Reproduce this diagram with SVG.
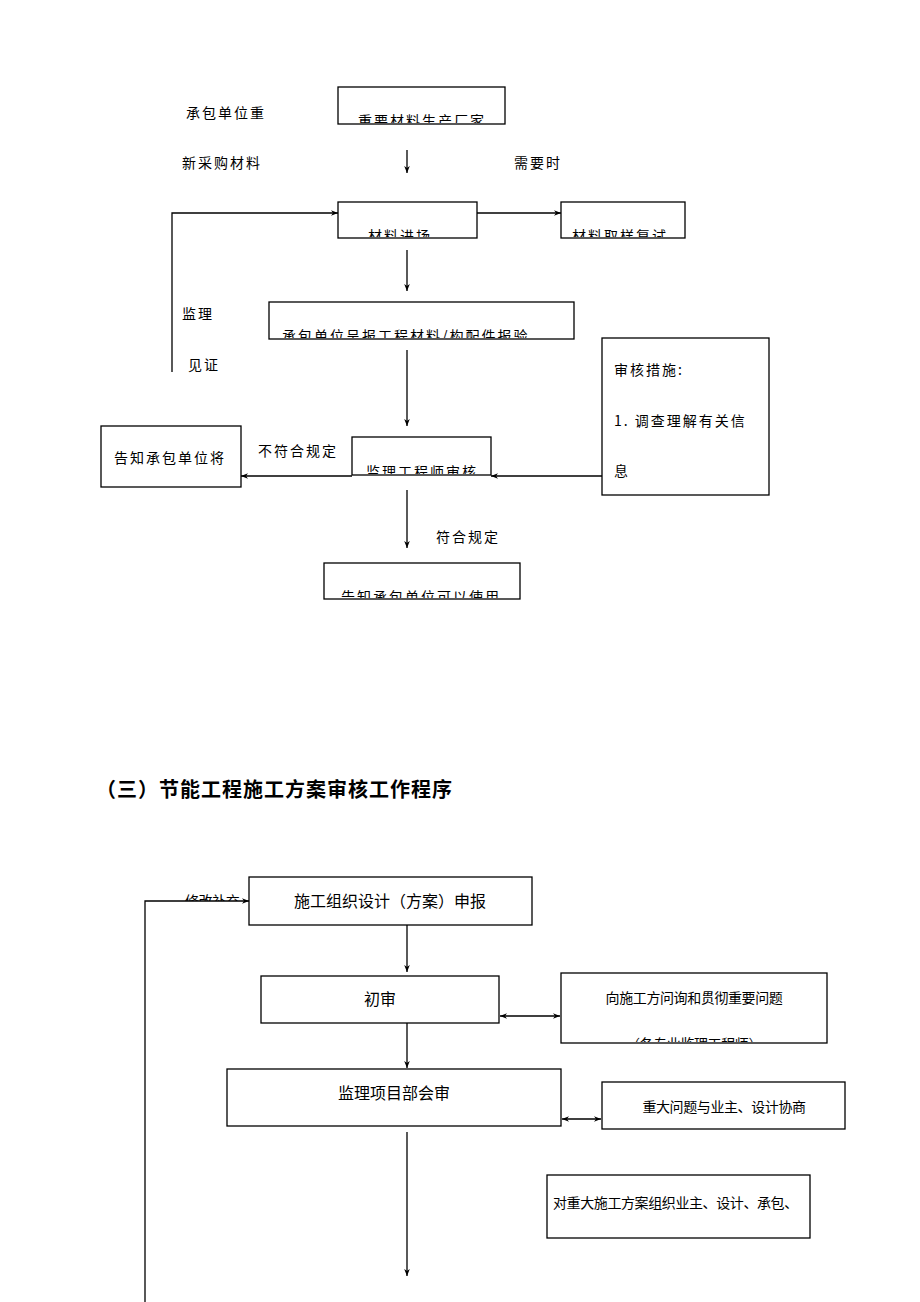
<svg xmlns="http://www.w3.org/2000/svg" width="920" height="1302" viewBox="0 0 920 1302">
<style>
.bg{fill:#fff}
.box{fill:#fff;stroke:#000;stroke-width:1.3}
.ln{fill:none;stroke:#000;stroke-width:1.3}
.t1{font-family:"Noto Sans CJK SC","Noto Sans",sans-serif;font-size:14px;fill:#000;letter-spacing:2px}
.t2{font-family:"Noto Sans CJK SC","Noto Sans",sans-serif;font-size:14px;fill:#000;letter-spacing:-0.4px}
.t3{font-family:"Noto Sans CJK SC","Noto Sans",sans-serif;font-size:16px;fill:#000}
.title{font-family:"Noto Sans CJK SC","Noto Sans",sans-serif;font-size:20px;font-weight:bold;fill:#000;letter-spacing:1px}
</style>
<defs>
<marker id="ah" viewBox="0 0 10 10" refX="10" refY="5" markerWidth="9" markerHeight="7" markerUnits="userSpaceOnUse" orient="auto-start-reverse">
<path d="M0,1 L10,5 L0,9 L3,5 z" fill="#000"/>
</marker>
<clipPath id="c1"><rect x="339" y="88" width="165" height="35"/></clipPath>
<clipPath id="c2"><rect x="339" y="203" width="137" height="34"/></clipPath>
<clipPath id="c3"><rect x="562" y="203" width="122" height="34"/></clipPath>
<clipPath id="c4"><rect x="270" y="303" width="303" height="35"/></clipPath>
<clipPath id="c5"><rect x="353" y="438" width="137" height="36"/></clipPath>
<clipPath id="c6"><rect x="325" y="564" width="194" height="34"/></clipPath>
<clipPath id="c7"><rect x="562" y="974" width="264" height="68"/></clipPath>
<clipPath id="c8"><rect x="150" y="880" width="98" height="21"/></clipPath>
</defs>
<rect class="bg" x="0" y="0" width="920" height="1302"/>

<g id="labels">
<text class="t1" x="186" y="118">承包单位重</text>
<text class="t1" x="182" y="168">新采购材料</text>
<text class="t1" x="514" y="168">需要时</text>
<text class="t1" x="182" y="319">监理</text>
<text class="t1" x="188" y="370">见证</text>
<text class="t1" x="258" y="456">不符合规定</text>
<text class="t1" x="436" y="542">符合规定</text>
<text class="title" x="96" y="797">（三）节能工程施工方案审核工作程序</text>
<g clip-path="url(#c8)"><text class="t2" x="185" y="906">修改补充</text></g>
</g>

<g id="connectors">
<line class="ln" x1="407" y1="150" x2="407" y2="173" marker-end="url(#ah)"/>
<polyline class="ln" points="172,372 172,213 338,213" marker-end="url(#ah)"/>
<line class="ln" x1="477" y1="213" x2="561" y2="213" marker-end="url(#ah)"/>
<line class="ln" x1="407" y1="250" x2="407" y2="291" marker-end="url(#ah)"/>
<line class="ln" x1="407" y1="350" x2="407" y2="426" marker-end="url(#ah)"/>
<line class="ln" x1="352" y1="476" x2="241" y2="476" marker-end="url(#ah)"/>
<line class="ln" x1="602" y1="476" x2="491" y2="476" marker-end="url(#ah)"/>
<line class="ln" x1="407" y1="490" x2="407" y2="548" marker-end="url(#ah)"/>
<polyline class="ln" points="145,1302 145,901 249,901" marker-end="url(#ah)"/>
<line class="ln" x1="407" y1="925" x2="407" y2="972" marker-end="url(#ah)"/>
<line class="ln" x1="500" y1="1016" x2="560" y2="1016" marker-start="url(#ah)" marker-end="url(#ah)"/>
<line class="ln" x1="407" y1="1023" x2="407" y2="1068" marker-end="url(#ah)"/>
<line class="ln" x1="562" y1="1119" x2="601" y2="1119" marker-start="url(#ah)" marker-end="url(#ah)"/>
<line class="ln" x1="407" y1="1132" x2="407" y2="1276" marker-end="url(#ah)"/>
</g>

<g id="n1"><rect class="box" x="338" y="87" width="167" height="37"/>
<g clip-path="url(#c1)"><text class="t1" x="358" y="126">重要材料生产厂家</text></g></g>
<g id="n2"><rect class="box" x="338" y="202" width="139" height="36"/>
<g clip-path="url(#c2)"><text class="t1" x="368" y="241">材料进场</text></g></g>
<g id="n3"><rect class="box" x="561" y="202" width="124" height="36"/>
<g clip-path="url(#c3)"><text class="t1" x="572" y="241">材料取样复试</text></g></g>
<g id="n4"><rect class="box" x="269" y="302" width="305" height="37"/>
<g clip-path="url(#c4)"><text class="t1" x="282" y="341">承包单位呈报工程材料/构配件报验</text></g></g>
<g id="n5"><rect class="box" x="602" y="338" width="167" height="157"/>
<text class="t1" x="614" y="375">审核措施:</text>
<text class="t1" x="614" y="426">1. 调查理解有关信</text>
<text class="t1" x="614" y="476">息</text></g>
<g id="n6"><rect class="box" x="101" y="426" width="140" height="61"/>
<text class="t1" x="114" y="463">告知承包单位将</text></g>
<g id="n7"><rect class="box" x="352" y="437" width="139" height="38"/>
<g clip-path="url(#c5)"><text class="t1" x="366" y="477">监理工程师审核</text></g></g>
<g id="n8"><rect class="box" x="324" y="563" width="196" height="36"/>
<g clip-path="url(#c6)"><text class="t1" x="341" y="602">告知承包单位可以使用</text></g></g>

<g id="m1"><rect class="box" x="249" y="877" width="283" height="48"/>
<text class="t3" x="390" y="907" text-anchor="middle">施工组织设计（方案）申报</text></g>
<g id="m2"><rect class="box" x="261" y="976" width="238" height="47"/>
<text class="t3" x="380" y="1005" text-anchor="middle">初审</text></g>
<g id="m3"><rect class="box" x="561" y="973" width="266" height="70"/>
<text class="t2" x="694" y="1003" text-anchor="middle">向施工方问询和贯彻重要问题</text>
<g clip-path="url(#c7)"><text class="t2" x="694" y="1049" text-anchor="middle">（各专业监理工程师）</text></g></g>
<g id="m4"><rect class="box" x="227" y="1069" width="334" height="57"/>
<text class="t3" x="394" y="1099" text-anchor="middle">监理项目部会审</text></g>
<g id="m5"><rect class="box" x="602" y="1082" width="243" height="47"/>
<text class="t2" x="724" y="1112" text-anchor="middle">重大问题与业主、设计协商</text></g>
<g id="m6"><rect class="box" x="547" y="1175" width="263" height="63"/>
<text class="t2" x="553" y="1208">对重大施工方案组织业主、设计、承包、</text></g>
</svg>
